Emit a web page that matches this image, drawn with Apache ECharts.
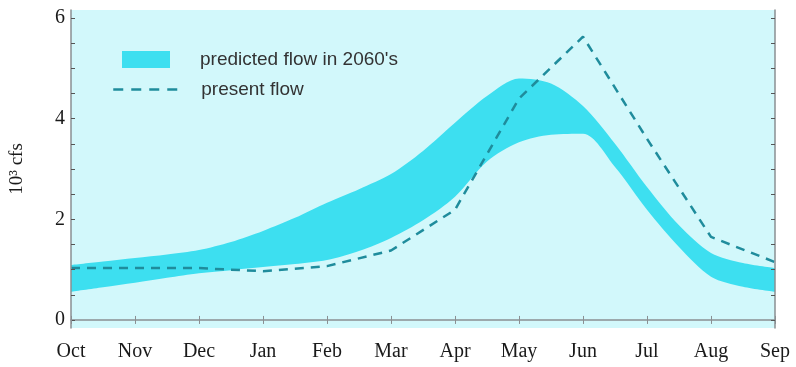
<!DOCTYPE html>
<html>
<head>
<meta charset="utf-8">
<script src="https://cdn.jsdelivr.net/npm/echarts@6/dist/echarts.min.js"></script>
<style>
  html, body { margin: 0; padding: 0; background: #ffffff; }
  #chart { width: 796px; height: 367px; }
</style>
</head>
<body>
<div id="chart"></div>
<script>
// Water-year months (tick labels)
const months = ['Oct', 'Nov', 'Dec', 'Jan', 'Feb', 'Mar', 'Apr', 'May', 'Jun', 'Jul', 'Aug', 'Sep'];

// Predicted 2060's flow range (10^3 cfs), sampled at each month and mid-month
const bandMonths = [0, 0.5, 1, 1.5, 2, 2.5, 3, 3.5, 4, 4.5, 5, 5.5, 6, 6.5, 7, 7.5, 8, 8.5, 9, 9.5, 10, 10.5, 11];
const predictedLow  = [0.56, 0.65, 0.74, 0.84, 0.93, 0.99, 1.05, 1.11, 1.19, 1.37, 1.63, 1.98, 2.45, 3.15, 3.53, 3.68, 3.70, 3.04, 2.19, 1.45, 0.86, 0.66, 0.56];
const predictedHigh = [1.09, 1.16, 1.23, 1.30, 1.39, 1.55, 1.77, 2.03, 2.33, 2.60, 2.90, 3.36, 3.92, 4.45, 4.80, 4.70, 4.25, 3.50, 2.64, 1.88, 1.33, 1.13, 1.03];

// Present flow (10^3 cfs), monthly
const presentFlow = [1.03, 1.03, 1.03, 0.97, 1.07, 1.38, 2.19, 4.40, 5.63, 3.60, 1.65, 1.15];

// Y axis labels and ticks
const yLabels = [0, 2, 4, 6];
const yTicks = [0, 0.5, 1, 1.5, 2, 2.5, 3, 3.5, 4, 4.5, 5, 5.5, 6];

// Half-month category slots; only whole months carry a label and a tick
const slots = bandMonths.map(m => Number.isInteger(m) ? months[m] : months[Math.floor(m)] + ' mid');
const isMonth = (idx) => Number.isInteger(bandMonths[idx]);

const bandWidth = predictedHigh.map((h, i) => +(h - predictedLow[i]).toFixed(2));
const presentData = bandMonths.map(m => Number.isInteger(m) ? presentFlow[m] : null);

const BAND = '#3ddff0';
const DASH = '#1f8c9c';
const AXIS = '#8a8f92';
const SERIF = '"Liberation Serif", "DejaVu Serif", serif';
const SANS = '"Liberation Sans", Arial, sans-serif';

const chart = echarts.init(document.getElementById('chart'), null, { renderer: 'canvas' });

chart.setOption({
  animation: false,
  backgroundColor: '#ffffff',
  grid: {
    left: 68, right: 21, top: 10, bottom: 39,
    show: true, backgroundColor: '#d2f8fb', borderWidth: 0
  },
  legend: [
    {
      data: [{ name: "predicted flow in 2060's", icon: 'rect' }],
      left: 117, top: 45,
      itemWidth: 48, itemHeight: 17,
      selectedMode: false,
      textStyle: { fontFamily: SANS, fontSize: 19, color: '#333', padding: [0, 0, 0, 25] }
    },
    {
      data: ['present flow'],
      left: 107, top: 75,
      itemWidth: 70, itemHeight: 14,
      selectedMode: false,
      itemStyle: { opacity: 0 },
      lineStyle: { color: DASH, width: 2.5, type: [10, 8] },
      textStyle: { fontFamily: SANS, fontSize: 19, color: '#333', padding: [0, 0, 0, 13] }
    }
  ],
  xAxis: [
    {
      type: 'category',
      data: slots,
      boundaryGap: false,
      z: 5,
      axisLine: { show: false },
      axisTick: { show: true, inside: true, length: 4, interval: (idx) => isMonth(idx), lineStyle: { color: AXIS } },
      axisLabel: {
        interval: (idx) => isMonth(idx),
        fontFamily: SERIF, fontSize: 20, color: '#1a1a1a', margin: 14
      },
      splitLine: { show: false }
    },
    {
      type: 'category',
      data: slots,
      position: 'top',
      boundaryGap: false,
      z: 5,
      axisLine: { show: true, lineStyle: { color: AXIS, width: 1.5 } },
      axisTick: { show: true, inside: true, length: 4, interval: (idx) => isMonth(idx), lineStyle: { color: AXIS } },
      axisLabel: { show: false },
      splitLine: { show: false }
    }
  ],
  yAxis: [
    {
      type: 'value',
      min: -0.16, max: 6.16,
      z: 5,
      name: '10³ cfs',
      nameLocation: 'middle',
      nameRotate: 90,
      nameGap: 44,
      nameTextStyle: { fontFamily: SERIF, fontSize: 19, color: '#1a1a1a' },
      axisLine: { show: true, lineStyle: { color: AXIS, width: 1.5 } },
      axisTick: { show: true, inside: true, length: 4, customValues: yTicks, lineStyle: { color: '#555' } },
      axisLabel: { customValues: yLabels, fontFamily: SERIF, fontSize: 20, color: '#1a1a1a', margin: 6 },
      splitLine: { show: false }
    },
    {
      type: 'value',
      position: 'right',
      min: -0.16, max: 6.16,
      z: 5,
      axisLine: { show: true, lineStyle: { color: AXIS, width: 1.5 } },
      axisTick: { show: true, inside: true, length: 4, customValues: yTicks, lineStyle: { color: '#555' } },
      axisLabel: { show: false },
      splitLine: { show: false }
    }
  ],
  series: [
    {
      name: 'predicted low',
      type: 'line',
      data: predictedLow,
      stack: 'band',
      smooth: 0.3,
      symbol: 'none',
      lineStyle: { width: 0, opacity: 0 },
      silent: true,
      z: 2
    },
    {
      name: "predicted flow in 2060's",
      type: 'line',
      data: bandWidth,
      stack: 'band',
      smooth: 0.3,
      symbol: 'none',
      color: BAND,
      itemStyle: { color: BAND },
      lineStyle: { width: 0, opacity: 0 },
      areaStyle: { color: BAND, opacity: 1 },
      silent: true,
      z: 2
    },
    {
      name: 'present flow',
      type: 'line',
      data: presentData,
      connectNulls: true,
      smooth: false,
      symbol: 'none',
      showSymbol: false,
      color: DASH,
      lineStyle: { color: DASH, width: 2.5, type: [9, 7] },
      silent: true,
      z: 3
    }
  ]
});
</script>
</body>
</html>
